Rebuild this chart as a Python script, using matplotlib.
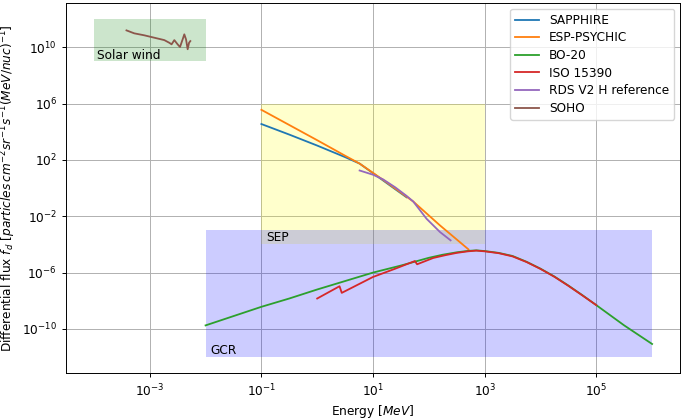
import numpy as np
import matplotlib
matplotlib.use('Agg')
from matplotlib import pyplot as plt

# values, stored as log10(E [MeV]) and log10(flux)
sapphire_loge = [-1, -0.5, 0, 0.5, 0.76, 1.0, 1.3, 1.6]
sapphire_logf = [4.55, 3.8, 3.02, 2.2, 1.74, 1.06, 0.2, -0.65]

esp_loge = [-1, -0.5, 0, 0.5, 0.76, 1.0, 1.24, 1.72, 2.2, 2.5, 2.71]
esp_logf = [5.56, 4.48, 3.4, 2.3, 1.74, 1.08, 0.42, -0.95, -2.65, -3.65, -4.35]

bo20_loge = [-2, -1, -0.5, 0, 0.5, 1, 1.5, 2, 2.25, 2.5, 2.7, 2.85, 3, 3.25, 3.5,
             3.75, 4, 4.25, 4.5, 4.75, 5, 5.5, 6]
bo20_logf = [-9.75, -8.43, -7.84, -7.2, -6.6, -6.0, -5.5, -4.95, -4.73, -4.56, -4.46,
             -4.42, -4.47, -4.6, -4.82, -5.23, -5.72, -6.28, -6.92, -7.6, -8.31, -9.75, -11.07]

iso_loge = [0, 0.40, 0.44, 1, 1.4, 1.75, 1.79, 2.08, 2.3, 2.5, 2.7, 2.85, 3, 3.25, 3.5,
            3.75, 4, 4.25, 4.5, 4.75, 5]
iso_logf = [-7.84, -6.97, -7.44, -6.31, -5.72, -5.18, -5.41, -4.96, -4.76, -4.6, -4.49,
            -4.44, -4.49, -4.62, -4.85, -5.25, -5.74, -6.3, -6.94, -7.62, -8.31]

rds_loge = [0.76, 1.0, 1.18, 1.4, 1.6, 1.72, 1.96, 2.2, 2.39]
rds_logf = [1.25, 0.95, 0.62, 0.05, -0.55, -0.95, -2.18, -3.12, -3.71]

soho_loge = [-3.417, -3.278, -3.098, -2.919, -2.739, -2.650, -2.609, -2.560, -2.501,
             -2.458, -2.411, -2.381, -2.350, -2.321, -2.296, -2.273]
soho_logf = [11.20, 10.99, 10.85, 10.68, 10.51, 10.32, 10.21, 10.51, 10.21,
             10.02, 10.56, 10.92, 10.56, 9.86, 10.32, 10.44]

# regions: name, (E min, E max), (flux min, flux max), colour
regions = [
    ("Solar wind", (1e-4, 1e-2), (1e9, 1e12), "green"),
    ("SEP", (1e-1, 1e3), (1e-4, 1e6), "yellow"),
    ("GCR", (1e-2, 1e6), (1e-12, 1e-3), "blue"),
]
label_pos = {"Solar wind": (1.15e-4, 1.4e9), "SEP": (0.122, 1.66e-4), "GCR": (1.2e-2, 1.6e-12)}

series = [
    ("SAPPHIRE", sapphire_loge, sapphire_logf),
    ("ESP-PSYCHIC", esp_loge, esp_logf),
    ("BO-20", bo20_loge, bo20_logf),
    ("ISO 15390", iso_loge, iso_logf),
    ("RDS V2 H reference", rds_loge, rds_logf),
    ("SOHO", soho_loge, soho_logf),
]

xticks = [1e-3, 1e-1, 1e1, 1e3, 1e5]
yticks = [1e-10, 1e-6, 1e-2, 1e2, 1e6, 1e10]

fs = 8.7
plt.rcParams['font.size'] = fs
plt.rcParams['axes.linewidth'] = 0.7
plt.rcParams['xtick.major.width'] = 0.7
plt.rcParams['ytick.major.width'] = 0.7
plt.rcParams['xtick.major.size'] = 3.0
plt.rcParams['ytick.major.size'] = 3.0

fig = plt.figure(figsize=(6.85, 4.18), dpi=100)
ax = fig.add_subplot(111)
fig.subplots_adjust(left=0.0964, right=0.9927, bottom=0.107, top=0.993)

for name, (x0, x1), (y0, y1), col in regions:
    ax.fill_between([x0, x1], y0, y1, color=col, alpha=0.2, linewidth=0)
    tx, ty = label_pos[name]
    ax.text(tx, ty, name, fontsize=fs, va='baseline', ha='left')

for i, (name, le, lf) in enumerate(series):
    ax.plot(np.power(10.0, le), np.power(10.0, lf), color='C%d' % i, lw=1.3, label=name)

ax.set_xscale('log')
ax.set_yscale('log')
ax.set_xlim(10 ** -4.5, 10 ** 6.5)
ax.set_ylim(10 ** -13.15, 10 ** 13.15)
ax.set_xticks(xticks)
ax.set_yticks(yticks)
ax.minorticks_off()
ax.grid(True, color='#b0b0b0', lw=0.7)
ax.set_axisbelow(True)

ax.set_xlabel(r'Energy [$MeV$]', labelpad=3)
ax.set_ylabel(r'Differential flux $f_d$ [$particles\,cm^{-2}sr^{-1}s^{-1}(MeV/nuc)^{-1}$]', labelpad=3)
ax.legend(loc='upper right', fontsize=fs, labelspacing=0.38)

fig.savefig('out.png', dpi=100)
